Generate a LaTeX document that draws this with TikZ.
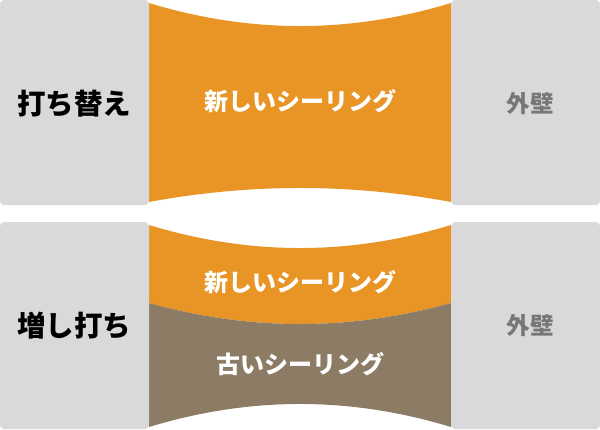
\documentclass[tikz,border=0pt]{standalone}
\usepackage{fontspec}
\setmainfont{Noto Sans CJK JP}
\definecolor{wallgray}{HTML}{D9D9D9}
\definecolor{newseal}{HTML}{E89526}
\definecolor{oldseal}{HTML}{8C7B65}
\definecolor{walltext}{HTML}{777777}

\begin{document}
\begin{tikzpicture}[x=1pt,y=-1pt,
    panel/.style={fill=wallgray,rounded corners=4pt},
    method/.style={font=\fontsize{28.5}{32}\selectfont\bfseries,text=black},
    seal/.style={font=\fontsize{24}{28}\selectfont\bfseries,text=white},
    wall/.style={font=\fontsize{23.5}{28}\selectfont\bfseries,text=walltext}]

\useasboundingbox (0,0) rectangle (600,429);

% replacement row
\fill[newseal] (149,3) .. controls (250,33.7) and (350,33.7) .. (451,3)
    -- (451,202) .. controls (350,183.3) and (250,183.3) .. (149,202) -- cycle;
\fill[panel] (0,0) rectangle (149,205);
\fill[panel] (451,0) rectangle (600,205);

% overlay row
\fill[newseal] (149,225) .. controls (250,255.7) and (350,255.7) .. (451,225)
    -- (451,303) .. controls (350,331) and (250,331) .. (149,303) -- cycle;
\fill[oldseal] (149,303) .. controls (250,331) and (350,331) .. (451,303)
    -- (451,427) .. controls (350,396.3) and (250,396.3) .. (149,427) -- cycle;
\fill[panel] (0,222) rectangle (149,429);
\fill[panel] (451,222) rectangle (600,429);

\node[method] (M_I1) at (74,104) {打ち替え};
\node[seal] (S_I1) at (300,101) {新しいシーリング};
\node[wall] (W_I1) at (530,104) {外壁};

\node[method] (M_I2) at (74,326) {増し打ち};
\node[seal] (S_I2) at (300,282) {新しいシーリング};
\node[seal] (S_I3) at (300,364) {古いシーリング};
\node[wall] (W_I2) at (530,326) {外壁};

\end{tikzpicture}
\end{document}
